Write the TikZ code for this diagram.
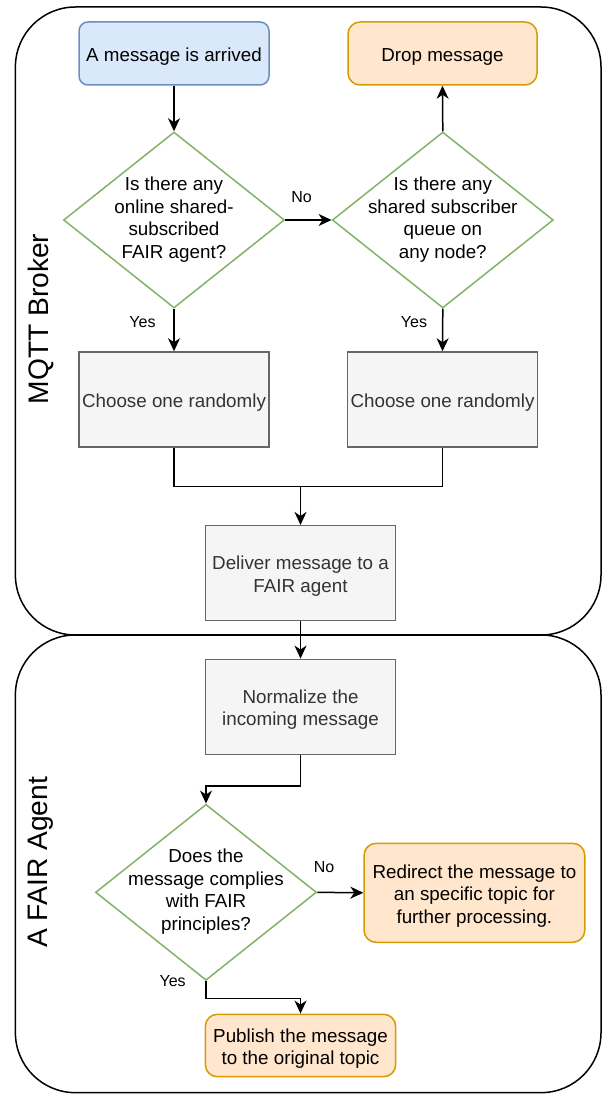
\documentclass[tikz,border=0pt]{standalone}
\usepackage{fontspec}
\setmainfont{Liberation Sans}
\usetikzlibrary{shapes.geometric,arrows.meta}
\definecolor{bluefill}{HTML}{DAE8FC}
\definecolor{bluedraw}{HTML}{6C8EBF}
\definecolor{orfill}{HTML}{FFE6CC}
\definecolor{ordraw}{HTML}{D79B00}
\definecolor{grfill}{HTML}{F5F5F5}
\definecolor{grdraw}{HTML}{666666}
\definecolor{grtext}{HTML}{333333}
\definecolor{diadraw}{HTML}{82B366}
\newcommand{\topstrut}{\rule{0pt}{19.5pt}}
\begin{document}
\begin{tikzpicture}[x=1pt,y=-1pt,
  container/.style={draw=black,line width=1.5pt,rounded corners=60pt,inner sep=0pt},
  bodyfont/.style={font=\fontsize{18.8}{22.5}\selectfont},
  boxtext/.style={bodyfont,align=center},
  startbox/.style={draw=bluedraw,fill=bluefill,line width=1.5pt,rounded corners=9pt,minimum width=190pt,minimum height=63pt,inner sep=0pt,boxtext},
  endbox/.style={draw=ordraw,fill=orfill,line width=1.5pt,rounded corners=12pt,inner sep=0pt,boxtext},
  procbox/.style={draw=grdraw,fill=grfill,line width=1.5pt,minimum width=190pt,minimum height=95pt,inner sep=0pt,boxtext,text=grtext},
  dia/.style={shape=diamond,draw=diadraw,fill=white,line width=1.5pt,minimum width=221pt,minimum height=176pt,inner sep=0pt},
  diatext/.style={bodyfont,align=center,inner sep=0pt},
  lbl/.style={font=\fontsize{16}{19}\selectfont,inner sep=0pt},
  sidelbl/.style={font=\fontsize{28.2}{32}\selectfont,rotate=90,inner sep=0pt},
  arr/.style={draw=black,line width=1.5pt,-{Stealth[length=13pt,width=12pt,inset=4pt]}},
  ln/.style={draw=black,line width=1.5pt}
]
\useasboundingbox (0,0) rectangle (602,1094);

% containers
\node[container,minimum width=585.6pt,minimum height=628pt] (broker) at (308.2,321) {};
\node[container,minimum width=585.6pt,minimum height=457.7pt] (agent) at (308.2,863.8) {};
\node[sidelbl] (brokerlbl) at (40.5,319) {MQTT Broker};
\node[sidelbl] (agentlbl) at (40.5,862.5) {A FAIR Agent};

% nodes
\node[startbox] (arrived) at (174,53.5) {\topstrut A message is arrived};
\node[endbox,minimum width=189pt,minimum height=63pt] (drop) at (442.5,53.5) {\topstrut Drop message};

\node[dia] (d1) at (174,220) {};
\node[diatext] (d1t) at (174,219.5) {Is there any\\online shared-\\subscribed\\FAIR agent?};
\node[dia] (d2) at (442.8,220) {};
\node[diatext] (d2t) at (442.8,219.5) {Is there any\\shared subscriber\\queue on\\any node?};

\node[procbox] (c1) at (174,399.5) {\topstrut Choose one randomly};
\node[procbox] (c2) at (442.5,399.5) {\topstrut Choose one randomly};

\node[procbox] (deliver) at (300.5,573.2) {\topstrut Deliver message to a\\FAIR agent};
\node[procbox] (norm) at (300.5,706.8) {\topstrut Normalize the\\incoming message};

\node[dia] (d3) at (206,892.3) {};
\node[diatext] (d3t) at (206,891.5) {Does the\\message complies\\with FAIR\\principles?};

\node[endbox,minimum width=220.7pt,minimum height=99pt] (redirect) at (474.4,892.8) {\topstrut Redirect the message to\\an specific topic for\\further processing.};
\node[endbox,minimum width=190.3pt,minimum height=62.4pt] (pub) at (300.5,1045.5) {\topstrut Publish the message\\to the original topic};

% labels
\node[lbl] (no1) at (301.6,197) {No};
\node[lbl] (yes1) at (142.5,321.7) {Yes};
\node[lbl] (yes2) at (414,322) {Yes};
\node[lbl] (no3) at (324,867) {No};
\node[lbl] (yes3) at (172.6,981) {Yes};

% connectors
\draw[arr] (arrived.south) -- (d1.north);
\draw[arr] (d2.north) -- (drop.south);
\draw[arr] (d1.east) -- (d2.west);
\draw[arr] (d1.south) -- (c1.north);
\draw[arr] (d2.south) -- (c2.north);
\coordinate (merge) at (300.5,486.7);
\draw[ln] (c1.south) |- (merge);
\draw[ln] (c2.south) |- (merge);
\draw[arr] (merge) -- (deliver.north);
\draw[arr] (deliver.south) -- (norm.north);
\draw[arr] (norm.south) -- ++(0,30.7) -| (d3.north);
\draw[arr] (d3.east) -- (redirect.west);
\draw[arr] (d3.south) -- ++(0,17.6) -| (pub.north);
\end{tikzpicture}
\end{document}
